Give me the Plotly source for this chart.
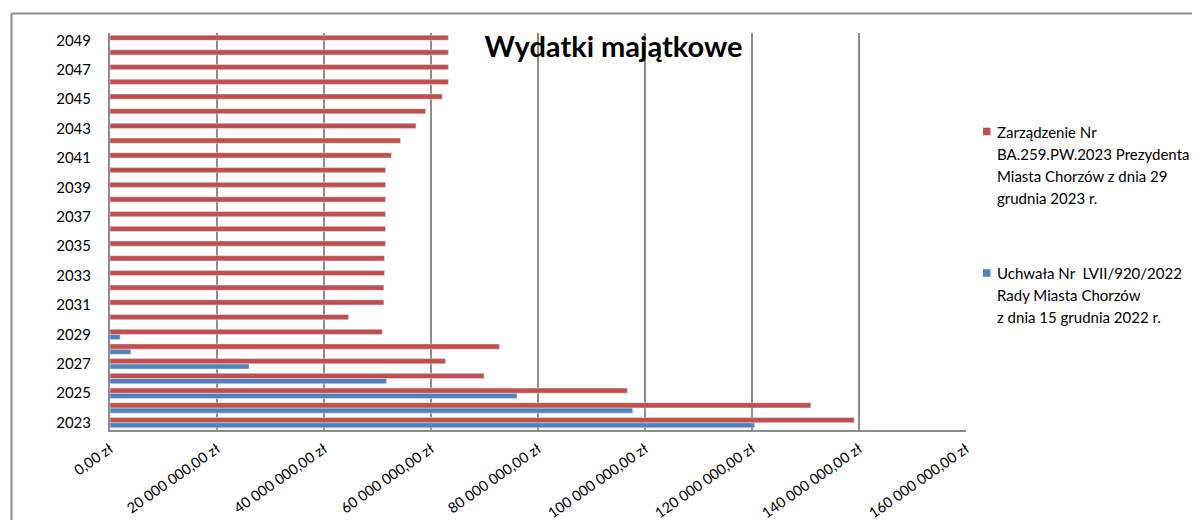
import plotly.graph_objects as go

# Wydatki majątkowe, values in millions of zł
years = list(range(2023, 2050))

zarzadzenie_mln = [139.1, 131.0, 96.7, 69.9, 62.7, 72.8, 50.9, 44.6, 51.2, 51.2,
                   51.3, 51.3, 51.5, 51.5, 51.5, 51.5, 51.5, 51.5, 52.6, 54.3,
                   57.2, 59.0, 62.1, 63.25, 63.25, 63.25, 63.25]

uchwala_mln = [120.5, 97.7, 76.1, 51.7, 26.0, 3.9, 1.9] + [None] * 20

x_tick_vals = [0, 20, 40, 60, 80, 100, 120, 140, 160]
x_tick_labels = ["0,00 zł", "20 000 000,00 zł", "40 000 000,00 zł",
                 "60 000 000,00 zł", "80 000 000,00 zł", "100 000 000,00 zł",
                 "120 000 000,00 zł", "140 000 000,00 zł", "160 000 000,00 zł"]

legend_zarz = ["Zarządzenie Nr", "BA.259.PW.2023 Prezydenta",
               "Miasta Chorzów z dnia 29", "grudnia 2023 r."]
legend_uchw = ["Uchwała Nr  LVII/920/2022", "Rady Miasta Chorzów",
               "z dnia 15 grudnia 2022 r."]

RED = "#C0504D"
BLUE = "#4F81BD"
GRID = "#8C8C8C"
FONT = "Lato"

# the page body adds an 8px margin, so the figure is sized to what remains
OFF = 8
W, H = 1200 - OFF, 520 - OFF
L, R, T, B = 102, 234, 25, 90
PW, PH = W - L - R, H - T - B


def px(x):
    # page pixel -> paper fraction
    return (x - OFF - L) / PW


def py(y):
    return (H - B - (y - OFF)) / PH


fig = go.Figure()
fig.add_trace(go.Bar(y=years, x=uchwala_mln, orientation="h",
                     name=" ".join(legend_uchw), marker_color=BLUE))
fig.add_trace(go.Bar(y=years, x=zarzadzenie_mln, orientation="h",
                     name=" ".join(legend_zarz), marker_color=RED))

# chart frame (top and left edges only are visible)
shapes = [
    dict(type="line", xref="paper", yref="paper", x0=px(11.5), x1=px(1200),
         y0=py(13.5), y1=py(13.5), line=dict(color=GRID, width=2)),
    dict(type="line", xref="paper", yref="paper", x0=px(11.5), x1=px(11.5),
         y0=py(13.5), y1=py(520), line=dict(color=GRID, width=2)),
]
# hand-made legend: Excel spaces the lines wider than plotly's legend does
annotations = []
for lines, color, top in [(legend_zarz, RED, 131.5), (legend_uchw, BLUE, 273)]:
    shapes.append(dict(type="rect", xref="paper", yref="paper",
                       x0=px(983), x1=px(990.5), y0=py(top - 3.8), y1=py(top + 3.8),
                       fillcolor=color, line=dict(width=0)))
    for i, line in enumerate(lines):
        annotations.append(dict(text=line, xref="paper", yref="paper",
                                x=px(995), y=py(top + 22 * i), xanchor="left",
                                yanchor="middle", showarrow=False,
                                font=dict(family=FONT, size=15, color="#000000")))

fig.update_layout(
    width=W, height=H,
    margin=dict(l=L, r=R, t=T, b=B),
    plot_bgcolor="white", paper_bgcolor="white",
    barmode="group", bargap=0.29, bargroupgap=0,
    showlegend=False,
    font=dict(family=FONT, color="#000000"),
    title=dict(text="<b>Wydatki majątkowe</b>", font=dict(family=FONT, size=29),
               xref="container", x=0.508, xanchor="center",
               yref="container", y=0.924, yanchor="middle"),
    xaxis=dict(range=[0, 160], tickvals=x_tick_vals, ticktext=x_tick_labels,
               tickangle=-35, tickfont=dict(size=14.5), showgrid=True,
               gridcolor=GRID, gridwidth=1.5, showline=True, linecolor=GRID,
               linewidth=2, zeroline=False, ticks="", ticklabelstandoff=3,
               automargin=False),
    yaxis=dict(range=[2022.5, 2049.5], tick0=2023, dtick=2, showgrid=False,
               showline=True, linecolor=GRID, linewidth=2, zeroline=False,
               tickfont=dict(size=15), ticks="", ticklabelstandoff=14,
               automargin=False),
    shapes=shapes,
    annotations=annotations,
)

fig.write_html("out.html")
